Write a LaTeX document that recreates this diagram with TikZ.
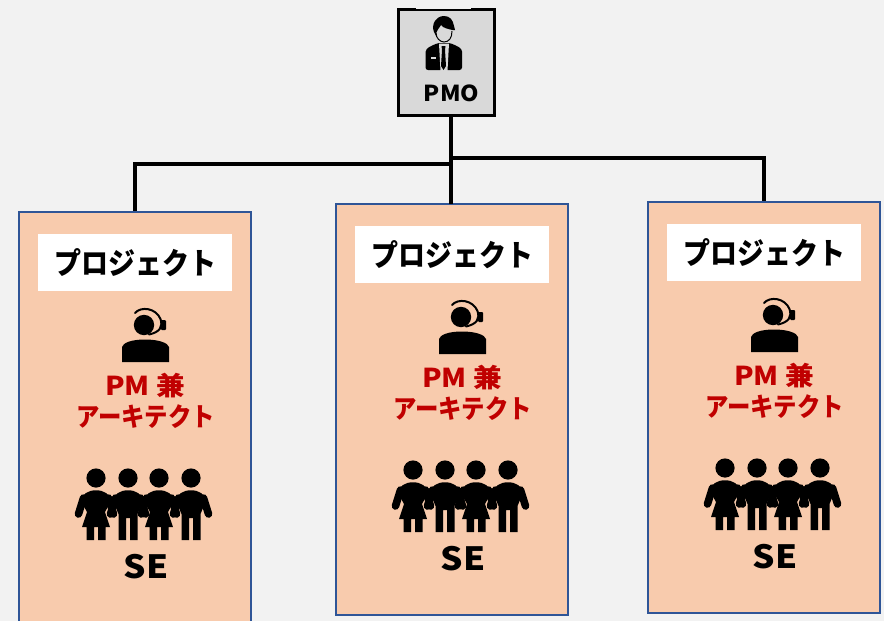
\documentclass[tikz,border=0pt]{standalone}
\usepackage{fontspec}
\setmainfont{Noto Sans CJK JP}
\newfontfamily\cjk{Noto Sans CJK JP}
\definecolor{bgc}{HTML}{F2F2F2}
\definecolor{boxc}{HTML}{F8CBAD}
\definecolor{edgec}{HTML}{2F5597}
\definecolor{redc}{HTML}{C00000}
\definecolor{grayc}{HTML}{D9D9D9}
\tikzset{
  wire/.style={line width=4.6pt,black,line cap=butt,line join=miter},
  projbox/.style={draw=edgec,line width=1.9pt,fill=boxc,minimum width=232pt,minimum height=411pt,inner sep=0pt},
  titlebox/.style={fill=white,minimum width=194pt,minimum height=57pt,inner sep=0pt,font=\cjk\bfseries\fontsize{30}{32}\selectfont},
  roletext/.style={text=redc,inner sep=0pt,font=\cjk\bfseries\fontsize{26}{30}\selectfont},
  setext/.style={inner sep=0pt,font=\cjk\bfseries\fontsize{32}{34}\selectfont},
  limb/.style={line width=7.6pt,line cap=round},
  manshape/.pic={
    \fill (0,0) circle (9.6);
    \draw[limb] (-12.5,20) -- (-17.5,36);
    \draw[limb] (12.5,20) -- (17.5,36);
    \fill (-14.5,24) .. controls (-14.5,16) and (-8,12.3) .. (0,12.3) .. controls (8,12.3) and (14.5,16) .. (14.5,24) -- (9.5,36) -- (9.5,62) -- (2,62) -- (2,40) -- (-2,40) -- (-2,62) -- (-9.5,62) -- (-9.5,36) -- cycle;
  },
  womanshape/.pic={
    \fill (0,0) circle (9.6);
    \draw[limb] (-12.5,20) -- (-17.5,36);
    \draw[limb] (12.5,20) -- (17.5,36);
    \fill (-14.5,24) .. controls (-14.5,16) and (-8,12.3) .. (0,12.3) .. controls (8,12.3) and (14.5,16) .. (14.5,24) -- (9,34) -- (14,49) -- (9.5,49) -- (9.5,62) -- (2,62) -- (2,49) -- (-2,49) -- (-2,62) -- (-9.5,62) -- (-9.5,49) -- (-14,49) -- (-9,34) -- cycle;
  },
  project/.pic={
    \node[projbox] (box) at (0,205.5) {};
    \node[titlebox] (title) at (0,50.5) {\scalebox{0.9}[1]{プロジェクト}};
    % headset operator
    \fill (9,113) circle (10.2);
    \draw[line width=2pt,line cap=round] (0,101) .. controls (6,94) and (21,96) .. (25.5,107) .. controls (28,115) and (25,120) .. (14,122.5);
    \fill[rounded corners=1pt] (26,108) rectangle (31,118);
    \fill (-13,150) -- (-13,135) .. controls (-12,131) and (-4,127.5) .. (10,127.5) .. controls (24,127.5) and (33,131) .. (34,135) -- (34,150) -- cycle;
    \node[roletext] (role1) at (10,173.5) {\scalebox{1.1}[1]{PM 兼}};
    \node[roletext] (role2) at (10.5,205) {\scalebox{0.9}[1]{アーキテクト}};
    % four persons
    \pic at (-39,266) {womanshape};
    \pic at (-7,266) {manshape};
    \pic at (24,266) {womanshape};
    \pic at (56,266) {manshape};
    \node[setext] (se) at (11,355) {\scalebox{1.1}[1]{SE}};
  }
}
\begin{document}
\begin{tikzpicture}[x=1pt,y=-1pt]
\useasboundingbox (0,0) rectangle (884,621);
\clip (0,0) rectangle (884,621);
\fill[bgc] (0,0) rectangle (884,621);
\pic (p1-) at (135,212) {project};
\pic (p2-) at (452,204) {project};
\pic (p3-) at (764,202) {project};
\node[draw=black,line width=2.6pt,fill=grayc,minimum width=96pt,minimum height=106pt,inner sep=0pt] (pmo) at (446.5,62.5) {};
\fill[bgc] (416,7.5) rectangle (471,8.7);
% manager icon
\fill[rounded corners=2.5pt] (425.5,70) -- (425.5,54) .. controls (426,48) and (431,46) .. (438,43) -- (450,43) .. controls (457,46) and (462,48) .. (462,54) -- (462,70) -- cycle;
\fill[grayc] (439,43.5) -- (449,43.5) -- (447.5,71) -- (440.5,71) -- cycle;
\fill (441.5,46) -- (445.5,46) -- (445,50) -- (446,66) -- (443.5,70) -- (441,66) -- (442,50) -- cycle;
\fill[grayc] (431,56.8) rectangle (435.5,58.6);
\fill (434,32) .. controls (431,24) and (436,16) .. (444,16) .. controls (450,16) and (453,20) .. (454,26) -- (455,30) -- (452.5,30) .. controls (448,29) and (443,28) .. (441,25) .. controls (439,29) and (436,30) .. (436,36) -- cycle;
\draw[line width=1pt] (436,33) .. controls (436,38) and (440,42) .. (444,42) .. controls (449,42) and (452,38) .. (452,31);
\node[inner sep=0pt,font=\cjk\bfseries\fontsize{22}{24}\selectfont] (pmolabel) at (451.5,93.5) {\scalebox{1.07}[1]{PMO}};
\draw[wire] (pmo.south -| 451,0) -- (451,204);
\draw[wire] (p1-box.north) -- (135,164) -- (451,164);
\draw[wire] (451,158) -- (764,158) -- (p3-box.north);
\end{tikzpicture}
\end{document}
